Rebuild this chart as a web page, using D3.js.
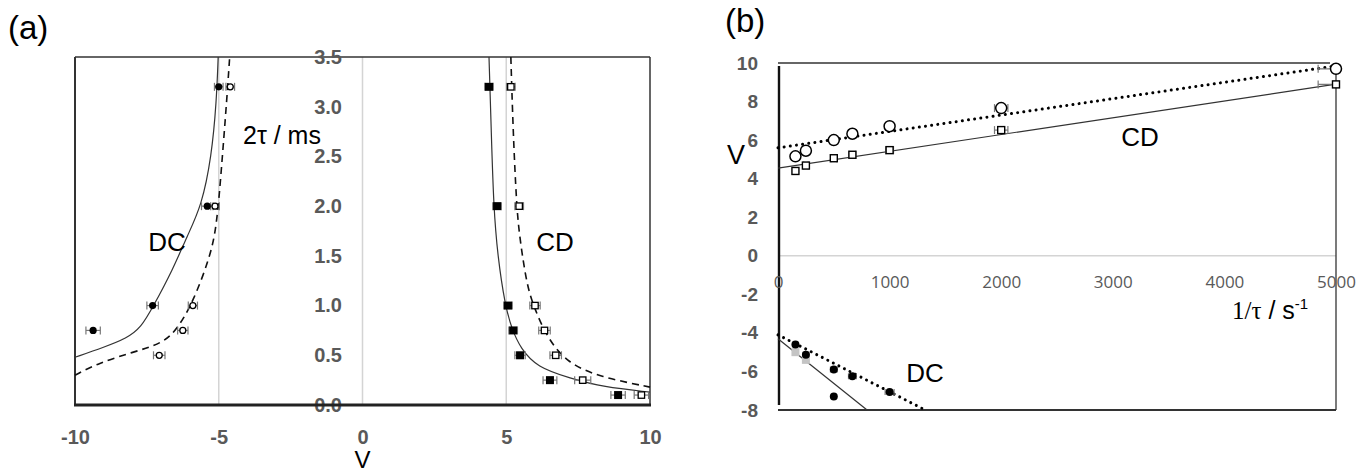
<!DOCTYPE html>
<html>
<head>
<meta charset="utf-8">
<script src="https://cdn.jsdelivr.net/npm/d3@7"></script>
<style>
  body { margin: 0; background: #fff; }
  svg { display: block; font-family: "Liberation Sans", Arial, sans-serif; }
</style>
</head>
<body>
<svg id="chart" width="1371" height="474"></svg>
<script>
// ---- data ----
// panel (a): 2tau in ms vs voltage
const tau2 = [3.2, 2.0, 1.0, 0.75, 0.5, 0.25, 0.1]
const cdFilledV = [4.4, 4.68, 5.06, 5.24, 5.48, 6.52, 8.89]
const cdFilledErr = [0.15, 0.15, 0.15, 0.15, 0.18, 0.24, 0.25]
const cdOpenV = [5.16, 5.45, 6.0, 6.33, 6.72, 7.66, 9.7]
const cdOpenErr = [0.15, 0.15, 0.18, 0.2, 0.2, 0.28, 0.25]
const dcFilledV = [-5.0, -5.4, -7.3, -9.37]
const dcFilledErr = [0.15, 0.2, 0.2, 0.25]
const dcOpenV = [-4.6, -5.13, -5.9, -6.25, -7.07]
const dcOpenErr = [0.15, 0.15, 0.16, 0.18, 0.2]

// model curves in (a), [V, 2tau]
const dcSolidCurve = [[-10, 0.48], [-9, 0.58], [-8.2, 0.67], [-7.7, 0.78], [-7.3, 0.98], [-6.6, 1.36], [-6.1, 1.7],
  [-5.6, 2.0], [-5.25, 2.5], [-5.08, 3.05], [-5.02, 3.5]]
const dcDashedCurve = [[-10, 0.3], [-9.2, 0.42], [-8.0, 0.53], [-6.95, 0.62], [-6.45, 0.76], [-5.9, 1.03],
  [-5.3, 1.49], [-5.07, 1.8], [-4.9, 2.4], [-4.72, 3.07], [-4.62, 3.5]]
const cdSolidCurve = [[4.4, 3.5], [4.48, 2.74], [4.56, 2.0], [4.7, 1.5], [4.96, 1.0], [5.2, 0.76], [5.5, 0.57],
  [6.07, 0.38], [7.22, 0.27], [8.37, 0.18], [10, 0.13]]
const cdDashedCurve = [[5.16, 3.5], [5.24, 2.74], [5.36, 2.0], [5.46, 1.7], [5.72, 1.19], [6.0, 0.96], [6.42, 0.68],
  [7.12, 0.42], [8.28, 0.28], [10, 0.18]]

// panel (b): V vs 1/tau in 1/s
const invTau = [156.25, 250, 500, 666.7, 1000, 2000, 5000]
const cdOpenErrB = [15, 20, 25, 30, 35, 60, 160]
const cdFilledErrB = [15, 20, 25, 30, 35, 60, 160]
const dcOpenErrB = [20, 25, 30, 35, 40]
const cdSolidFit = [[0, 4.55], [5000, 8.9]]
const cdDottedFit = [[0, 5.6], [5000, 9.85]]
const dcSolidFit = [[0, -4.3], [798, -8]]
const dcDottedFit = [[0, -4.1], [1320, -8]]

const ticksA_x = [-10, -5, 0, 5, 10]
const ticksA_y = [0, 0.5, 1, 1.5, 2, 2.5, 3, 3.5]
const ticksB_x = [0, 1000, 2000, 3000, 4000, 5000]
const ticksB_y = [-8, -6, -4, -2, 0, 2, 4, 6, 8, 10]

const svg = d3.select('#chart')
const labelGray = '#595959'
const plain = d => String(d)   // keep the plain hyphen minus like the original

// ================= panel (a) =================
const xA = d3.scaleLinear().domain([-10, 10]).range([75, 650])
const yA = d3.scaleLinear().domain([0, 3.5]).range([405, 57])
const gA = svg.append('g')

// light vertical grid at -5, 0, 5
gA.selectAll('.vgrid').data([-5, 0, 5]).enter().append('line')
  .attr('x1', d => xA(d)).attr('x2', d => xA(d))
  .attr('y1', yA(3.5)).attr('y2', yA(0))
  .attr('stroke', '#d4d4d4').attr('stroke-width', 1.5)

// frame
gA.append('line').attr('x1', xA(-10)).attr('x2', xA(10)).attr('y1', yA(3.5)).attr('y2', yA(3.5))
  .attr('stroke', '#333').attr('stroke-width', 1.5)
gA.append('line').attr('x1', xA(10)).attr('x2', xA(10)).attr('y1', yA(3.5)).attr('y2', yA(0))
  .attr('stroke', '#333').attr('stroke-width', 1.5)
gA.append('line').attr('x1', xA(-10)).attr('x2', xA(-10)).attr('y1', yA(3.5)).attr('y2', yA(0))
  .attr('stroke', '#333').attr('stroke-width', 2)

// axes (labels only)
const axAy = d3.axisLeft(yA).tickValues(ticksA_y).tickFormat(d3.format('.1f')).tickSize(0).tickPadding(0)
gA.append('g').attr('transform', 'translate(342,0)').call(axAy)
  .call(g => g.select('.domain').remove())
  .selectAll('text').attr('fill', labelGray).attr('font-size', 20).attr('font-weight', 'bold')
  .attr('font-family', '"Liberation Sans", Arial, sans-serif')

const axAx = d3.axisBottom(xA).tickValues(ticksA_x).tickFormat(plain).tickSize(0).tickPadding(25)
gA.append('g').attr('transform', `translate(0,${yA(0)})`).call(axAx)
  .call(g => g.select('.domain').remove())
  .selectAll('text').attr('fill', labelGray).attr('font-size', 20).attr('font-weight', 'bold')
  .attr('font-family', '"Liberation Sans", Arial, sans-serif')

gA.append('line').attr('x1', xA(-10) - 1).attr('x2', xA(10) + 1).attr('y1', yA(0)).attr('y2', yA(0))
  .attr('stroke', '#222').attr('stroke-width', 3)

// curves
const lineA = d3.line().x(d => xA(d[0])).y(d => yA(d[1])).curve(d3.curveBasis)
function curveA(data, dashed) {
  gA.append('path').datum(data).attr('d', lineA)
    .attr('fill', 'none').attr('stroke', dashed ? '#111' : '#333')
    .attr('stroke-width', dashed ? 1.6 : 1.2)
    .attr('stroke-dasharray', dashed ? '7 5' : null)
}
curveA(dcSolidCurve, false)
curveA(dcDashedCurve, true)
curveA(cdSolidCurve, false)
curveA(cdDashedCurve, true)

// horizontal error bars
function errBars(g, xs, ys, errs, xScale, yScale, cap) {
  const pts = xs.map((x, i) => ({ x: x, y: ys[i], e: errs[i] }))
  const eg = g.append('g').attr('stroke', '#777').attr('stroke-width', 1.2)
  pts.forEach(p => {
    const y = yScale(p.y)
    eg.append('line').attr('x1', xScale(p.x - p.e)).attr('x2', xScale(p.x + p.e)).attr('y1', y).attr('y2', y)
    eg.append('line').attr('x1', xScale(p.x - p.e)).attr('x2', xScale(p.x - p.e)).attr('y1', y - cap).attr('y2', y + cap)
    eg.append('line').attr('x1', xScale(p.x + p.e)).attr('x2', xScale(p.x + p.e)).attr('y1', y - cap).attr('y2', y + cap)
  })
  return eg
}
errBars(gA, dcFilledV, tau2, dcFilledErr, xA, yA, 4)
errBars(gA, dcOpenV, tau2, dcOpenErr, xA, yA, 4)
errBars(gA, cdFilledV, tau2, cdFilledErr, xA, yA, 4)
errBars(gA, cdOpenV, tau2, cdOpenErr, xA, yA, 4)

// markers
gA.selectAll('.dcF').data(dcFilledV).enter().append('circle')
  .attr('cx', d => xA(d)).attr('cy', (d, i) => yA(tau2[i])).attr('r', 3.6).attr('fill', '#000')
gA.selectAll('.dcO').data(dcOpenV).enter().append('circle')
  .attr('cx', d => xA(d)).attr('cy', (d, i) => yA(tau2[i])).attr('r', 3)
  .attr('fill', '#fff').attr('stroke', '#000').attr('stroke-width', 1.3)
gA.selectAll('.cdF').data(cdFilledV).enter().append('rect')
  .attr('x', d => xA(d) - 4).attr('y', (d, i) => yA(tau2[i]) - 4).attr('width', 8).attr('height', 8).attr('fill', '#000')
gA.selectAll('.cdO').data(cdOpenV).enter().append('rect')
  .attr('x', d => xA(d) - 3.2).attr('y', (d, i) => yA(tau2[i]) - 3.2).attr('width', 6.4).attr('height', 6.4)
  .attr('fill', '#fff').attr('stroke', '#000').attr('stroke-width', 1.3)

// texts
gA.append('text').attr('x', 8).attr('y', 39).attr('font-size', 33).text('(a)')
gA.append('text').attr('x', 243).attr('y', 144).attr('font-size', 25).text('2τ / ms')
gA.append('text').attr('x', xA(0)).attr('y', 468).attr('font-size', 24).attr('text-anchor', 'middle').text('V')
gA.append('text').attr('x', 167).attr('y', 251).attr('font-size', 26).attr('text-anchor', 'middle').text('DC')
gA.append('text').attr('x', 555).attr('y', 251).attr('font-size', 26).attr('text-anchor', 'middle').text('CD')

// ================= panel (b) =================
const xB = d3.scaleLinear().domain([0, 5000]).range([778, 1336])
const yB = d3.scaleLinear().domain([-8, 10]).range([410, 63])
const gB = svg.append('g')

gB.append('clipPath').attr('id', 'clipB').append('rect')
  .attr('x', xB(0)).attr('y', yB(10) - 10).attr('width', xB(5000) - xB(0)).attr('height', yB(-8) - yB(10) + 10)

gB.append('line').attr('x1', xB(0)).attr('x2', xB(5000)).attr('y1', yB(0)).attr('y2', yB(0))
  .attr('stroke', '#d4d4d4').attr('stroke-width', 1.5)
gB.append('line').attr('x1', xB(0)).attr('x2', xB(5000) - 6).attr('y1', yB(10)).attr('y2', yB(10))
  .attr('stroke', '#333').attr('stroke-width', 1.3)
gB.append('line').attr('x1', xB(5000)).attr('x2', xB(5000)).attr('y1', yB(10) + 6).attr('y2', yB(-8))
  .attr('stroke', '#333').attr('stroke-width', 1.3)
gB.append('line').attr('x1', xB(0)).attr('x2', xB(5000)).attr('y1', yB(-8)).attr('y2', yB(-8))
  .attr('stroke', '#333').attr('stroke-width', 1.8)
gB.append('line').attr('x1', xB(0) + 1).attr('x2', xB(0) + 1).attr('y1', yB(10) + 3).attr('y2', yB(-8) - 5)
  .attr('stroke', '#111').attr('stroke-width', 2.4)

const axBy = d3.axisLeft(yB).tickValues(ticksB_y).tickFormat(plain).tickSize(0).tickPadding(0)
gB.append('g').attr('transform', 'translate(758,0)').call(axBy)
  .call(g => g.select('.domain').remove())
  .selectAll('text').attr('fill', labelGray).attr('font-size', 19).attr('font-weight', 'bold')
  .attr('font-family', '"Liberation Sans", Arial, sans-serif')

const axBx = d3.axisBottom(xB).tickValues(ticksB_x).tickFormat(d3.format('d')).tickSize(0).tickPadding(20)
gB.append('g').attr('transform', `translate(0,${yB(0)})`).call(axBx)
  .call(g => g.select('.domain').remove())
  .selectAll('text').attr('fill', labelGray).attr('font-size', 17)
  .attr('font-family', '"Open Sans", "Liberation Sans", sans-serif')

// fit lines
const lineB = d3.line().x(d => xB(d[0])).y(d => yB(d[1]))
function fitB(data, dotted) {
  gB.append('path').datum(data).attr('d', lineB)
    .attr('fill', 'none').attr('stroke', dotted ? '#000' : '#333')
    .attr('stroke-width', dotted ? 3 : 1.2)
    .attr('stroke-linecap', dotted ? 'round' : 'butt')
    .attr('stroke-dasharray', dotted ? '0.01 6.2' : null)
}
fitB(cdSolidFit, false)
fitB(cdDottedFit, true)
fitB(dcSolidFit, false)
fitB(dcDottedFit, true)

// error bars (b), clipped at the right frame
errBars(gB, invTau, cdOpenV, cdOpenErrB, xB, yB, 4).attr('clip-path', 'url(#clipB)')
errBars(gB, invTau, cdFilledV, cdFilledErrB, xB, yB, 4).attr('clip-path', 'url(#clipB)')
errBars(gB, invTau.slice(0, 5), dcOpenV, dcOpenErrB, xB, yB, 3)

// CD markers (b)
gB.selectAll('.bco').data(cdOpenV).enter().append('circle')
  .attr('cx', (d, i) => xB(invTau[i])).attr('cy', d => yB(d)).attr('r', 5.5)
  .attr('fill', '#fff').attr('stroke', '#000').attr('stroke-width', 1.5)
gB.selectAll('.bcf').data(cdFilledV).enter().append('rect')
  .attr('x', (d, i) => xB(invTau[i]) - 3.5).attr('y', d => yB(d) - 3.5).attr('width', 7).attr('height', 7)
  .attr('fill', '#fff').attr('stroke', '#000').attr('stroke-width', 1.4)

// DC markers (b): filled-series points that stay inside the frame
const dcInB = dcFilledV.map((v, i) => ({ x: invTau[i], v: v })).filter(d => d.v >= -8)
gB.selectAll('.bdg').data(dcInB.slice(0, 2)).enter().append('rect')
  .attr('x', d => xB(d.x) - 4).attr('y', d => yB(d.v) - 4).attr('width', 8).attr('height', 8)
  .attr('fill', '#c4c4c4')
gB.selectAll('.bdb').data(dcInB.slice(2)).enter().append('circle')
  .attr('cx', d => xB(d.x)).attr('cy', d => yB(d.v)).attr('r', 4).attr('fill', '#000')
gB.selectAll('.bdo').data(dcOpenV).enter().append('circle')
  .attr('cx', (d, i) => xB(invTau[i])).attr('cy', d => yB(d)).attr('r', 4).attr('fill', '#000')

// texts (b)
gB.append('text').attr('x', 725).attr('y', 32).attr('font-size', 33).text('(b)')
gB.append('text').attr('x', 727).attr('y', 164).attr('font-size', 27).text('V')
gB.append('text').attr('x', 1140).attr('y', 146).attr('font-size', 26).attr('text-anchor', 'middle').text('CD')
gB.append('text').attr('x', 925).attr('y', 382).attr('font-size', 26).attr('text-anchor', 'middle').text('DC')
const tl = gB.append('text').attr('x', 1232).attr('y', 319).attr('font-size', 25)
tl.append('tspan').attr('font-family', '"Liberation Serif", "Times New Roman", serif').text('1/τ')
tl.append('tspan').text(' / s')
tl.append('tspan').attr('font-size', 15).attr('dy', -10).text('-1')
</script>
</body>
</html>
